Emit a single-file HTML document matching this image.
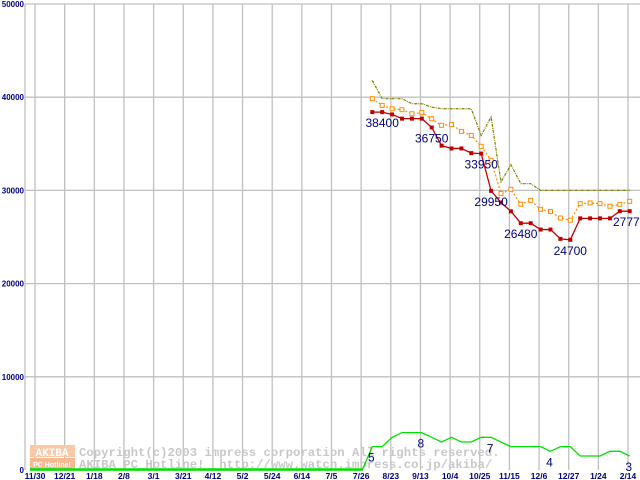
<!DOCTYPE html>
<html><head><meta charset="utf-8"><style>
html,body{margin:0;padding:0;background:#fff;}
svg{display:block;}
</style></head><body>
<svg id="chart" width="640" height="480" xmlns="http://www.w3.org/2000/svg" font-family="Liberation Sans, sans-serif">
<g id="grid"></g>
<g id="watermark">
  <rect x="30" y="445" width="45" height="12" fill="#f8c8a8"/>
  <rect x="30" y="458" width="45" height="11" fill="#f8b890"/>
  <text x="52" y="456" font-size="11" font-weight="bold" fill="#fff" text-anchor="middle" font-family="Liberation Mono, monospace">AKIBA</text>
  <text x="52" y="467" font-size="7" font-weight="bold" fill="#fff" text-anchor="middle">PC Hotline!</text>
  <text x="79" y="456" font-size="12.3" font-weight="bold" fill="#c8c8c8" font-family="Liberation Mono, monospace">Copyright(c)2003 impress corporation All rights reserved.</text>
  <text x="79" y="468" font-size="12.3" font-weight="bold" fill="#c8c8c8" font-family="Liberation Mono, monospace" style="white-space:pre" xml:space="preserve">AKIBA PC Hotline!  http://www.watch.impress.co.jp/akiba/</text>
</g>
<g id="series"></g>
</svg>
<script>
const xTickLabels=["11/30","12/21","1/18","2/8","3/1","3/21","4/12","5/2","5/24","6/14","7/5","7/26","8/23","9/13","10/4","10/25","11/15","12/6","12/27","1/24","2/14"];
const yTickLabels=["0","10000","20000","30000","40000","50000"];
const minPrice=[38400,38400,38150,37700,37700,37700,36750,34800,34500,34500,34000,33950,29950,28700,27750,26480,26480,25800,25800,24800,24700,27000,27000,27000,27000,27770,27770];
const avgPrice=[39840,39120,38760,38660,38230,38340,37690,36980,37080,36330,35900,34730,33230,29660,30120,28510,28940,27970,27730,27040,26800,28580,28650,28580,28300,28510,28830];
const maxPrice=[41790,39840,39840,39840,39300,39300,38940,38760,38760,38760,38760,35900,37870,30900,32760,30720,30720,30000,30000,30000,30000,30000,30000,30000,30000,30000,30000];
const shopCount=[5,5,7,8,8,8,7,6,7,6,6,7,7,6,5,5,5,5,4,5,5,3,3,3,4,4,3];
const priceLabelIdx=[1,6,11,12,15,20,26];
const countLabelIdx=[0,5,12,18,26];

const NS="http://www.w3.org/2000/svg";
const X0=35, XSTEP=29.65, Y0=470, YTOP=4;
const PT0=372.3, PTSTEP=9.9;
function yPrice(v){return Y0-(v/50000)*(Y0-YTOP);}
function xPt(i){return PT0+i*PTSTEP;}
function yCount(c){return Y0-c*4.67;}
function mk(tag,attrs,parent){const e=document.createElementNS(NS,tag);for(const k in attrs)e.setAttribute(k,attrs[k]);parent.appendChild(e);return e;}
const grid=document.getElementById('grid'), series=document.getElementById('series');

yTickLabels.forEach((t,i)=>{
  const v=i*10000, y=yPrice(v);
  if(i>0){const l=mk('line',{x1:25,x2:640,y1:y,y2:y,stroke:'#c0c0c0','stroke-width':1.3},grid);
  
  }
  const tx=mk('text',{x:24,y:y+3,'font-size':8,'font-weight':'bold',fill:'#000080','text-anchor':'end'},grid);
  tx.textContent=t;
  
  
});
const ax=mk('line',{x1:25,x2:25,y1:YTOP,y2:Y0,stroke:'#c0c0c0','stroke-width':1.3},grid);


xTickLabels.forEach((t,i)=>{
  const x=X0+i*XSTEP;
  const l=mk('line',{x1:x,x2:x,y1:YTOP,y2:Y0,stroke:'#c0c0c0','stroke-width':1.3},grid);
  
  
  const tx=mk('text',{x:x,y:479,'font-size':8.5,'font-weight':'bold',fill:'#000080','text-anchor':'middle'},grid);
  tx.textContent=t;
  
  
});

let gp='M30,'+Y0+' L'+(xPt(0)-10)+','+Y0;
shopCount.forEach((c,i)=>{gp+=' L'+xPt(i)+','+yCount(c);});
const g=mk('path',{d:gp,fill:'none',stroke:'#00e000','stroke-width':1.3},series);


const gz=mk('line',{x1:30,x2:xPt(0)-10,y1:Y0-0.5,y2:Y0-0.5,stroke:'#00e000','stroke-width':2.5},series);



const mp=mk('polyline',{points:maxPrice.map((v,i)=>xPt(i)+','+yPrice(v)).join(' '),fill:'none',stroke:'#808000','stroke-width':1.2,'stroke-dasharray':'3,1,1,1'},series);



const ap=mk('polyline',{points:avgPrice.map((v,i)=>xPt(i)+','+yPrice(v)).join(' '),fill:'none',stroke:'#ff8c00','stroke-width':1.2,'stroke-dasharray':'2,2'},series);


avgPrice.forEach((v,i)=>{
  const r=mk('rect',{x:xPt(i)-2,y:yPrice(v)-2,width:4,height:4,fill:'#fff',stroke:'#ff8c00','stroke-width':1},series);
  
  
});

const rp=mk('polyline',{points:minPrice.map((v,i)=>xPt(i)+','+yPrice(v)).join(' '),fill:'none',stroke:'#c00000','stroke-width':1.3},series);


minPrice.forEach((v,i)=>{
  const r=mk('rect',{x:xPt(i)-2,y:yPrice(v)-2,width:4,height:4,fill:'#c00000'},series);
  
  
});
priceLabelIdx.forEach(i=>{
  const tx=mk('text',{x:xPt(i),y:yPrice(minPrice[i])+15,'font-size':12,fill:'#000080','text-anchor':'middle'},series);
  tx.textContent=String(minPrice[i]);
  
  
});
countLabelIdx.forEach(i=>{
  const tx=mk('text',{x:xPt(i)-1,y:yCount(shopCount[i])+15,'font-size':12,fill:'#000080','text-anchor':'middle'},series);
  tx.textContent=String(shopCount[i]);
  
  
});
</script>
</body></html>
